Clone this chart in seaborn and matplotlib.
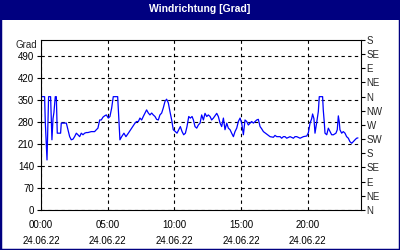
import matplotlib
matplotlib.use("Agg")
import matplotlib.pyplot as plt
from matplotlib.patches import Rectangle
import seaborn as sns
import pandas as pd

# ---- data (hours since 00:00 on 24.06.22, wind direction in degrees) ----
hours = [0.0, 0.27, 0.32, 0.4, 0.45, 0.52, 0.57, 0.72, 0.82, 0.9, 0.97, 1.07, 1.15, 1.22, 1.47,
         1.52, 1.9, 2.02, 2.15, 2.27, 2.4, 2.52, 2.65, 2.77, 2.9, 3.02, 3.15, 3.27, 3.4, 3.52,
         3.77, 4.02, 4.15, 4.27, 4.4, 4.52, 4.65, 4.77, 4.9, 5.05, 5.17, 5.3, 5.42, 5.75, 5.8,
         5.92, 6.05, 6.22, 6.37, 6.55, 6.8, 7.05, 7.17, 7.3, 7.42, 7.55, 7.67, 7.8, 7.92, 8.05,
         8.17, 8.3, 8.42, 8.55, 8.67, 8.8, 8.92, 9.05, 9.17, 9.3, 9.42, 9.55, 9.67, 9.8, 9.92,
         10.08, 10.2, 10.33, 10.45, 10.58, 10.7, 10.83, 10.95, 11.08, 11.2, 11.33, 11.43, 11.55,
         11.68, 11.8, 11.93, 12.05, 12.18, 12.3, 12.43, 12.55, 12.68, 12.8, 12.93, 13.18, 13.3,
         13.43, 13.55, 13.68, 13.8, 13.93, 14.05, 14.18, 14.3, 14.43, 14.55, 14.68, 14.8, 14.93,
         15.05, 15.18, 15.3, 15.43, 15.55, 15.68, 15.8, 15.93, 16.05, 16.18, 16.3, 16.43, 16.55,
         16.68, 16.93, 17.05, 17.18, 17.43, 17.55, 17.68, 17.93, 18.05, 18.18, 18.3, 18.43,
         18.68, 18.93, 19.05, 19.18, 19.43, 19.68, 19.93, 20.05, 20.18, 20.3, 20.37, 20.47,
         20.55, 20.67, 20.8, 20.87, 21.12, 21.17, 21.25, 21.3, 21.43, 21.55, 21.68, 21.8, 21.93,
         22.12, 22.22, 22.3, 22.37, 22.42, 22.55, 22.67, 22.8, 22.92, 23.05, 23.17, 23.3, 23.42,
         23.55, 23.67, 23.77]
direction = [360, 360, 281, 201, 159, 281, 360, 360, 223, 290, 310, 360, 360, 244, 244,
             276, 276, 255, 233, 223, 225, 233, 244, 239, 233, 244, 239, 244, 246, 246,
             249, 249, 255, 260, 286, 286, 295, 299, 302, 292, 297, 324, 360, 360, 318,
             223, 233, 244, 233, 244, 260, 276, 281, 281, 292, 286, 297, 308, 318, 308,
             302, 308, 302, 297, 288, 286, 302, 308, 324, 345, 352, 340, 313, 286, 255,
             249, 244, 255, 265, 249, 239, 244, 265, 297, 292, 297, 286, 265,
             260, 270, 276, 302, 286, 307, 297, 302, 297, 286, 292, 307, 297,
             276, 265, 292, 255, 276, 260, 255, 244, 233, 249, 260, 281, 292,
             276, 239, 286, 281, 270, 276, 281, 276, 281, 286, 288, 265, 258,
             249, 241, 237, 233, 231, 237, 233, 233, 228, 233, 233, 228,
             233, 228, 233, 233, 228, 233, 235, 245, 276, 290, 305, 290,
             244, 276, 313, 360, 360, 318, 276, 244, 239, 260, 249, 239, 239,
             244, 255, 299, 280, 255, 244, 249, 244, 233, 228, 217, 212, 217,
             223, 228, 229]

y_ticks = [0, 70, 140, 210, 280, 350, 420, 490]
compass_ticks = [0, 45, 90, 135, 180, 225, 270, 315, 360, 405, 450, 495, 540]
compass_labels = ["N", "NE", "E", "SE", "S", "SW", "W", "NW", "N", "NE", "E", "SE", "S"]
x_major = [0, 5, 10, 15, 20]
x_labels = ["00:00\n24.06.22", "05:00\n24.06.22", "10:00\n24.06.22",
            "15:00\n24.06.22", "20:00\n24.06.22"]
title = "Windrichtung [Grad]"
y_unit = "Grad"

df = pd.DataFrame({"h": hours, "deg": direction})

sns.set_style("white")
plt.rcParams["font.family"] = ["Liberation Sans", "DejaVu Sans"]

navy = "#000080"
fig = plt.figure(figsize=(4, 2.5), dpi=100)
ax = fig.add_axes([41 / 400, 40 / 250, 320 / 400, 170 / 250])

sns.lineplot(data=df, x="h", y="deg", ax=ax, color="#0000ff", linewidth=0.9)

ax.set_xlim(0, 24)
ax.set_ylim(0, 540)
ax.set_xlabel("")
ax.set_ylabel("")

ax.set_yticks(y_ticks)
ax.set_yticklabels([str(v) for v in y_ticks], fontsize=7)
ax.set_xticks(x_major)
ax.set_xticklabels(x_labels, fontsize=7, linespacing=1.75)
ax.set_xticks(list(range(0, 25)), minor=True)
ax.tick_params(axis="both", which="both", direction="out", length=3, width=0.8,
               color="black", pad=2, labelcolor="black")
ax.tick_params(axis="x", which="major", pad=4)

ax.grid(True, which="major", color="black", linestyle=(0, (3, 3)), linewidth=0.8)
for s in ax.spines.values():
    s.set_visible(True)
    s.set_color("black")
    s.set_linewidth(0.8)

ax2 = ax.twinx()
ax2.set_ylim(0, 540)
ax2.set_yticks(compass_ticks)
ax2.set_yticklabels(compass_labels, fontsize=7)
ax2.tick_params(axis="y", direction="out", length=3, width=0.8, pad=1, color="black")
ax2.grid(False)
for s in ax2.spines.values():
    s.set_visible(False)

fig.text(37 / 400, 1 - 45 / 250, y_unit, ha="right", va="center", fontsize=7)

# title bar and border
fig.patches.append(Rectangle((0, 1 - 20 / 250), 1, 20 / 250, transform=fig.transFigure,
                             facecolor=navy, edgecolor="none", zorder=0))
fig.patches.append(Rectangle((0, 0), 1, 1, transform=fig.transFigure, fill=False,
                             edgecolor=navy, linewidth=2.5, zorder=5))
fig.text(0.5, 1 - 9.5 / 250, title, ha="center", va="center", color="white",
         fontsize=7.5, fontweight="bold")

fig.savefig("out.png", dpi=100, facecolor="white")
